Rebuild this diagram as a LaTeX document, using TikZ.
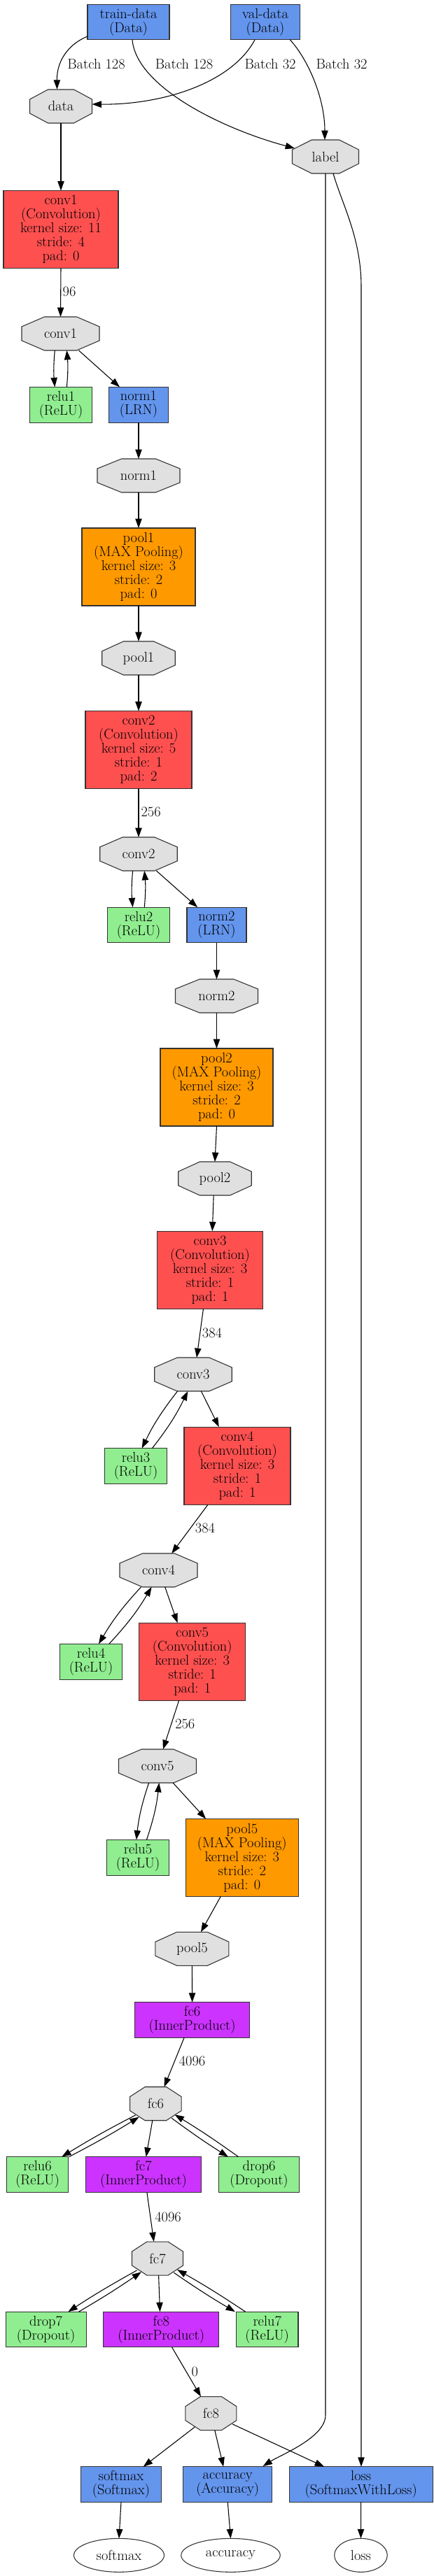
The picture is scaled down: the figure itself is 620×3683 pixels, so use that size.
\documentclass[tikz,border=0pt]{standalone}
\usepackage{fontspec}
\usetikzlibrary{arrows.meta,shapes.geometric}
\definecolor{convred}{HTML}{FF5050}
\definecolor{poolor}{HTML}{FF9900}
\definecolor{ipviolet}{HTML}{CC33FF}
\definecolor{cblue}{HTML}{6495ED}
\definecolor{lgreen}{HTML}{90EE90}
\definecolor{blobgray}{HTML}{E0E0E0}
\newcommand\nodefont{\fontsize{15.3}{15}\selectfont}
% octagon blob: name, x, y, width, text
\newcommand\octnode[5]{%
  \filldraw[octfill] ({#2-#4/2},{#3-10}) -- ({#2-#4/2+0.2929*#4},{#3-24}) -- ({#2+#4/2-0.2929*#4},{#3-24}) -- ({#2+#4/2},{#3-10}) -- ({#2+#4/2},{#3+10}) -- ({#2+#4/2-0.2929*#4},{#3+24}) -- ({#2-#4/2+0.2929*#4},{#3+24}) -- ({#2-#4/2},{#3+10}) -- cycle;
  \node[blobtext, minimum width=#4*0.75pt] (#1) at (#2,#3) {#5};
}
\begin{document}
\begin{tikzpicture}[x=0.75pt,y=-0.75pt,
  lay/.style={draw=black!80, line width=0.8pt, align=center, inner sep=0pt, outer sep=0pt, font=\nodefont},
  two/.style={minimum height=38pt},
  five/.style={minimum height=83.25pt},
  wd/.style={minimum width=#1*0.75pt},
  conv/.style={lay, fill=convred, five},
  pool/.style={lay, fill=poolor, five},
  ip/.style={lay, fill=ipviolet, two},
  bluebox/.style={lay, fill=cblue, two},
  greenbox/.style={lay, fill=lgreen, two},
  blobtext/.style={inner sep=0pt, outer sep=0pt, minimum height=36pt, font=\nodefont},
  octfill/.style={fill=blobgray, draw=black!80, line width=0.8pt},
  outell/.style={ellipse, draw=black!80, line width=0.8pt, inner sep=0pt, outer sep=0pt, minimum height=36pt, font=\nodefont},
  conn/.style={-{Triangle[length=10pt,width=7pt]}, line width=0.8pt},
  elab/.style={inner sep=0pt, font=\nodefont}
]
\useasboundingbox (0,0) rectangle (620,3683);
\fill[white] (0,0) rectangle (620,3683);

% ---- nodes ----
\node[bluebox, wd=117] (trainD) at (183.5,31.5) {train-data\\(Data)};
\node[bluebox, wd=99.5] (valD) at (379,31.5) {val-data\\(Data)};
\octnode{data}{87}{152}{89}{data}
\octnode{label}{465}{224}{95}{label}
\node[conv, wd=164] (conv1L) at (87,328) {conv1\\(Convolution)\\kernel size: 11\\stride: 4\\pad: 0};
\octnode{conv1}{86.5}{477}{111}{conv1}
\node[greenbox, wd=88.6] (relu1) at (87,578.7) {relu1\\(ReLU)};
\node[bluebox, wd=85] (norm1L) at (198,578.7) {norm1\\(LRN)};
\octnode{norm1}{198}{680}{118}{norm1}
\node[pool, wd=162] (pool1L) at (198,810.5) {pool1\\(MAX Pooling)\\kernel size: 3\\stride: 2\\pad: 0};
\octnode{pool1}{198}{941}{104.5}{pool1}
\node[conv, wd=152] (conv2L) at (198,1072) {conv2\\(Convolution)\\kernel size: 5\\stride: 1\\pad: 2};
\octnode{conv2}{198}{1221}{110.5}{conv2}
\node[greenbox, wd=88.6] (relu2) at (198,1322.5) {relu2\\(ReLU)};
\node[bluebox, wd=85] (norm2L) at (309.5,1322.5) {norm2\\(LRN)};
\octnode{norm2}{309.5}{1424}{118}{norm2}
\node[pool, wd=161] (pool2L) at (309.5,1554.5) {pool2\\(MAX Pooling)\\kernel size: 3\\stride: 2\\pad: 0};
\octnode{pool2}{307}{1685}{104.5}{pool2}
\node[conv, wd=151] (conv3L) at (300,1815.7) {conv3\\(Convolution)\\kernel size: 3\\stride: 1\\pad: 1};
\octnode{conv3}{276}{1965}{110.5}{conv3}
\node[greenbox, wd=89] (relu3) at (194,2096) {relu3\\(ReLU)};
\node[conv, wd=152] (conv4L) at (339,2095.7) {conv4\\(Convolution)\\kernel size: 3\\stride: 1\\pad: 1};
\octnode{conv4}{226.5}{2245}{111}{conv4}
\node[greenbox, wd=88.6] (relu4) at (130,2375.7) {relu4\\(ReLU)};
\node[conv, wd=152] (conv5L) at (274.7,2375.8) {conv5\\(Convolution)\\kernel size: 3\\stride: 1\\pad: 1};
\octnode{conv5}{225}{2525}{111}{conv5}
\node[greenbox, wd=88.3] (relu5) at (197,2655.7) {relu5\\(ReLU)};
\node[pool, wd=161.5] (pool5L) at (345.8,2656) {pool5\\(MAX Pooling)\\kernel size: 3\\stride: 2\\pad: 0};
\octnode{pool5}{274.4}{2786.3}{105}{pool5}
\node[ip, wd=164.5] (fc6L) at (274.6,2888) {fc6\\(InnerProduct)};
\octnode{fc6}{222.4}{3007.7}{73.5}{fc6}
\node[greenbox, wd=88.6] (relu6) at (53.5,3109) {relu6\\(ReLU)};
\node[ip, wd=165] (fc7L) at (205,3109) {fc7\\(InnerProduct)};
\node[greenbox, wd=115] (drop6) at (370,3109) {drop6\\(Dropout)};
\octnode{fc7}{225}{3229}{73}{fc7}
\node[greenbox, wd=115] (drop7) at (65.6,3330.5) {drop7\\(Dropout)};
\node[ip, wd=165] (fc8L) at (230.3,3330.5) {fc8\\(InnerProduct)};
\node[greenbox, wd=88.6] (relu7) at (381.7,3330.5) {relu7\\(ReLU)};
\octnode{fc8}{301.4}{3450.5}{73}{fc8}
\node[bluebox, wd=115] (softmaxL) at (173,3552) {softmax\\(Softmax)};
\node[bluebox, wd=127] (accuracyL) at (325.3,3552) {accuracy\\(Accuracy)};
\node[bluebox, wd=205] (lossL) at (515.7,3552) {loss\\(SoftmaxWithLoss)};
\node[outell, wd=129] (softmax) at (170,3653.3) {softmax};
\node[outell, wd=141.5] (accuracy) at (329.5,3653.3) {accuracy};
\node[outell, wd=75.6] (loss) at (515.5,3653.3) {loss};

% ---- connectors ----
\draw[conn] ([shift={(-58.5,20.5)}]trainD.center) .. controls +(-25,10) and +(-0.5,-42.7) .. ([shift={(-5.5,-24.3)}]data.center);
\draw[conn] ([shift={(5.5,25.5)}]trainD.center) .. controls +(6,68) and +(-101,-27) .. ([shift={(-44,-12)}]label.center);
\draw[conn] ([shift={(-15,25.5)}]valD.center) .. controls +(-34,63) and +(98.5,1) .. ([shift={(44.5,-3)}]data.center);
\draw[conn] ([shift={(35.5,25.5)}]valD.center) .. controls +(25.5,28) and +(0,-60) .. ([shift={(-1,-24)}]label.center);
\node[elab] (lbA) at (137.5,91.7) {Batch 128};
\node[elab] (lbB) at (263,91.7) {Batch 128};
\node[elab] (lbC) at (386,91.7) {Batch 32};
\node[elab] (lbD) at (488,91.7) {Batch 32};

\draw[conn] (data.south) -- (conv1L.north);
\draw[conn] (conv1L.south) -- (conv1.north);
\node[elab] (lb96) at (99,417.3) {96};
\draw[conn] ([shift={(-8.2,24)}]conv1.center) to[bend right=5] ([shift={(-8.7,-25.35)}]relu1.center);
\draw[conn] ([shift={(8.4,-25.35)}]relu1.center) to[bend right=5] ([shift={(8.9,24)}]conv1.center);
\draw[conn] ([shift={(26,24)}]conv1.center) -- ([shift={(-27,-25.35)}]norm1L.center);
\draw[conn] (norm1L.south) -- (norm1.north);
\draw[conn] (norm1.south) -- (pool1L.north);
\draw[conn] (pool1L.south) -- (pool1.north);
\draw[conn] (pool1.south) -- (conv2L.north);
\draw[conn] (conv2L.south) -- (conv2.north);
\node[elab] (lb256a) at (215.6,1161) {256};
\draw[conn] ([shift={(-8.4,24)}]conv2.center) to[bend right=5] ([shift={(-8.4,-25.35)}]relu2.center);
\draw[conn] ([shift={(8.3,-25.35)}]relu2.center) to[bend right=5] ([shift={(8.3,24)}]conv2.center);
\draw[conn] ([shift={(25.4,24)}]conv2.center) -- ([shift={(-27.3,-25.35)}]norm2L.center);
\draw[conn] (norm2L.south) -- (norm2.north);
\draw[conn] (norm2.south) -- (pool2L.north);
\draw[conn] (pool2L.south) -- (pool2.north);
\draw[conn] ([shift={(-1.8,24)}]pool2.center) -- ([shift={(3.3,-55.5)}]conv3L.center);
\draw[conn] ([shift={(-9.5,55.5)}]conv3L.center) -- ([shift={(5,-24)}]conv3.center);
\node[elab] (lb384a) at (303,1905.7) {384};
\draw[conn] ([shift={(-22.4,24)}]conv3.center) to[bend right=6] ([shift={(8.7,-25.35)}]relu3.center);
\draw[conn] ([shift={(23.4,-25.35)}]relu3.center) to[bend right=6] ([shift={(-7.7,24)}]conv3.center);
\draw[conn] ([shift={(11.4,24)}]conv3.center) -- ([shift={(-26.2,-55.5)}]conv4L.center);
\draw[conn] ([shift={(-42,55.5)}]conv4L.center) -- ([shift={(18.7,-24)}]conv4.center);
\node[elab] (lb384b) at (293,2185) {384};
\draw[conn] ([shift={(-25,24)}]conv4.center) to[bend right=6] ([shift={(11,-25.35)}]relu4.center);
\draw[conn] ([shift={(25.8,-25.35)}]relu4.center) to[bend right=6] ([shift={(-9.9,24)}]conv4.center);
\draw[conn] ([shift={(9.2,24)}]conv4.center) -- ([shift={(-21.1,-55.5)}]conv5L.center);
\draw[conn] ([shift={(-19.1,55.5)}]conv5L.center) -- ([shift={(7.9,-24)}]conv5.center);
\node[elab] (lb256b) at (264.3,2465) {256};
\draw[conn] ([shift={(-12.4,24)}]conv5.center) to[bend right=6] ([shift={(-2.2,-25.35)}]relu5.center);
\draw[conn] ([shift={(12.5,-25.35)}]relu5.center) to[bend right=6] ([shift={(2.3,24)}]conv5.center);
\draw[conn] ([shift={(22.2,24)}]conv5.center) -- ([shift={(-51.7,-55.5)}]pool5L.center);
\draw[conn] ([shift={(-30.6,55.5)}]pool5L.center) -- ([shift={(12.6,-24)}]pool5.center);
\draw[conn] (pool5.south) -- (fc6L.north);
\draw[conn] ([shift={(-11.5,25.35)}]fc6L.center) -- ([shift={(12.1,-24)}]fc6.center);
\node[elab] (lb4096a) at (274.6,2947.3) {4096};
\draw[conn] ([shift={(-28.8,16.3)}]fc6.center) to[bend right=2] ([shift={(34.7,-25.35)}]relu6.center);
\draw[conn] ([shift={(45.1,-25.35)}]relu6.center) to[bend right=2] ([shift={(-23.7,19)}]fc6.center);
\draw[conn] ([shift={(-4.6,24)}]fc6.center) -- ([shift={(3.7,-25.35)}]fc7L.center);
\draw[conn] ([shift={(22.8,20.6)}]fc6.center) to[bend right=2] ([shift={(-44,-25.35)}]drop6.center);
\draw[conn] ([shift={(-29.4,-25.35)}]drop6.center) to[bend right=2] ([shift={(27.2,15.6)}]fc6.center);
\draw[conn] ([shift={(4.9,25.35)}]fc7L.center) -- ([shift={(-5.2,-24)}]fc7.center);
\node[elab] (lb4096b) at (240,3169.3) {4096};
\draw[conn] ([shift={(-29.5,17)}]fc7.center) to[bend right=2] ([shift={(31.8,-25.35)}]drop7.center);
\draw[conn] ([shift={(46.9,-25.35)}]drop7.center) to[bend right=2] ([shift={(-23.1,19.3)}]fc7.center);
\draw[conn] ([shift={(1.6,24)}]fc7.center) -- ([shift={(-1.8,-25.35)}]fc8L.center);
\draw[conn] ([shift={(23.4,20.3)}]fc7.center) to[bend right=2] ([shift={(-45.8,-25.35)}]relu7.center);
\draw[conn] ([shift={(-31.1,-25.35)}]relu7.center) to[bend right=2] ([shift={(28.2,16)}]fc7.center);
\draw[conn] ([shift={(15.3,25.35)}]fc8L.center) -- ([shift={(-14.4,-24)}]fc8.center);
\node[elab] (lb0) at (278.2,3390.7) {0};
\draw[conn] ([shift={(-23.2,19.5)}]fc8.center) -- ([shift={(31.7,-25.35)}]softmaxL.center);
\draw[conn] ([shift={(5.4,24)}]fc8.center) -- ([shift={(-6.1,-25.35)}]accuracyL.center);
\draw[conn] ([shift={(30.5,15.2)}]fc8.center) -- ([shift={(-52.7,-25.35)}]lossL.center);
\draw[conn] ([shift={(0,24)}]label.center) -- ([shift={(0,3229)}]label.center) .. controls +(0,32) and +(25,-16) .. ([shift={(50.3,-26)}]accuracyL.center);
\draw[conn] ([shift={(11,24)}]label.center) .. controls +(13,45) and +(0,-70) .. ([shift={(51,186)}]label.center) -- ([shift={(0.3,-25.35)}]lossL.center);
\draw[conn] (softmaxL.south) -- (softmax.north);
\draw[conn] (accuracyL.south) -- (accuracy.north);
\draw[conn] (lossL.south) -- (loss.north);
\end{tikzpicture}
\end{document}
